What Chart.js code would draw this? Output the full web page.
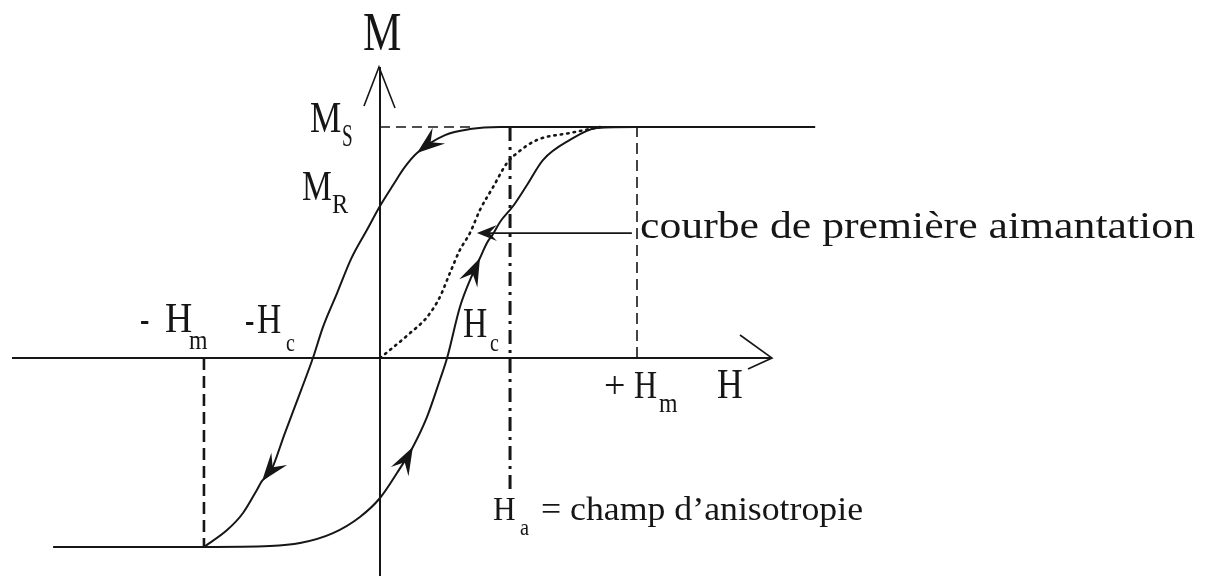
<!DOCTYPE html>
<html>
<head>
<meta charset="utf-8">
<title>Cycle d'hystérésis</title>
<script src="https://cdn.jsdelivr.net/npm/chart.js@4.4.1/dist/chart.umd.min.js"></script>
<style>
  html, body { margin: 0; padding: 0; background: #ffffff; }
  canvas { display: block; }
</style>
</head>
<body>
<canvas id="cycle" width="1217" height="576"></canvas>
<script>
// Field H in units where +Hm = 10, magnetisation M in units where Ms = 10.
const H_PLUS_M = 10;
const H_MINUS_M = -6.85;
const H_ANISO = 5.06;
const M_SAT = 10;
const M_LOW = -8.18;

// Descending branch, travelled from +Hm saturation towards -Hm.
const descendingH = [16.93, 8.56, 4.67, 3.50, 2.53, 1.44, 0.97, 0.51, 0, -0.51, -1.12, -1.67, -2.22, -2.61, -3.07, -3.70, -4.28, -4.59, -4.79, -5.33, -5.95, -6.85];
const descendingM = [10, 10, 10, 9.91, 9.65, 8.87, 8.27, 7.49, 6.58, 5.54, 4.30, 2.81, 1.34, 0, -1.39, -3.25, -4.98, -5.32, -5.71, -6.71, -7.45, -8.18];

// Ascending branch, travelled from the negative saturation back up to +Hm.
const ascendingH = [-12.72, -6.85, -4.28, -3.11, -1.83, -0.78, 0, 0.66, 1.28, 1.83, 2.33, 2.61, 3.11, 3.62, 3.89, 4.16, 4.40, 4.67, 5.18, 5.72, 6.34, 7.39, 8.44, 10, 16.93];
const ascendingM = [-8.18, -8.18, -8.14, -8.01, -7.58, -6.88, -6.06, -4.98, -3.85, -2.55, -0.95, 0, 2.21, 3.68, 4.33, 4.98, 5.37, 5.89, 6.58, 7.49, 8.57, 9.44, 9.96, 10, 10];

// First magnetisation curve, starting from the demagnetised state.
const virginH = [0, 0.39, 1.17, 1.83, 2.33, 2.72, 3.11, 3.50, 3.89, 4.40, 4.94, 5.33, 6.11, 7.39, 8.56];
const virginM = [0, 0.35, 1.08, 1.77, 2.64, 3.68, 4.68, 5.41, 6.41, 7.40, 8.44, 8.87, 9.44, 9.74, 10];

// Direction arrows: [branch, point index]
const travelArrows = [['desc', 5], ['desc', 17], ['asc', 8], ['asc', 14]];

// Pointer towards the first magnetisation curve: start H, end H, level M
const pointerH = [3.77, 9.8];
const pointerM = 5.41;

const INK = '#161616';
const SERIF = '"Liberation Serif", "DejaVu Serif", serif';

const pts = (hs, ms) => hs.map((h, i) => ({ x: h, y: ms[i] }));

function line(label, data, extra) {
  return Object.assign({
    label, data, showLine: true, pointRadius: 0, pointHoverRadius: 0,
    borderColor: INK, borderWidth: 2, tension: 0, fill: false
  }, extra);
}

const smooth = { cubicInterpolationMode: 'monotone' };

const datasets = [
  line('Ms', pts([0, 3.7], [M_SAT, M_SAT]), { borderDash: [10, 6], borderWidth: 1.6 }),
  line('+Hm', pts([H_PLUS_M, H_PLUS_M], [0, M_SAT]), { borderDash: [11, 6], borderWidth: 1.6 }),
  line('-Hm', pts([H_MINUS_M, H_MINUS_M], [0, M_LOW]), { borderDash: [12, 6], borderWidth: 2.6 }),
  line('Ha', pts([H_ANISO, H_ANISO], [M_SAT, -5.7]), { borderDash: [14, 6, 3, 6], borderWidth: 3 }),
  line('descendant', pts(descendingH, descendingM), smooth),
  line('montant', pts(ascendingH, ascendingM), smooth),
  line('première aimantation', pts(virginH, virginM), Object.assign({
    borderDash: [1.5, 5], borderWidth: 2.6, borderCapStyle: 'round'
  }, smooth))
];

function barb(ctx, x, y, ang, len, half) {
  ctx.save();
  ctx.translate(x, y);
  ctx.rotate(ang);
  ctx.beginPath();
  ctx.moveTo(0, 0);
  ctx.lineTo(-len, -half);
  ctx.lineTo(-len * 0.62, 0);
  ctx.lineTo(-len, half);
  ctx.closePath();
  ctx.fillStyle = INK;
  ctx.fill();
  ctx.restore();
}

function text(ctx, str, x, y, size, sx) {
  ctx.save();
  ctx.font = size + 'px ' + SERIF;
  ctx.fillStyle = INK;
  ctx.textBaseline = 'alphabetic';
  ctx.translate(x, y);
  ctx.scale(sx || 1, 1);
  ctx.fillText(str, 0, 0);
  ctx.restore();
}

function fitText(ctx, str, x, y, size, width) {
  ctx.save();
  ctx.font = size + 'px ' + SERIF;
  const w = ctx.measureText(str).width;
  ctx.restore();
  text(ctx, str, x, y, size, width / w);
}

const decorations = {
  id: 'decorations',
  beforeDatasetsDraw(chart) {
    const ctx = chart.ctx;
    const xs = chart.scales.x, ys = chart.scales.y;
    const x0 = xs.getPixelForValue(0), y0 = ys.getPixelForValue(0);
    ctx.save();
    ctx.strokeStyle = INK;
    ctx.lineWidth = 2;
    ctx.beginPath();
    ctx.moveTo(x0, 67); ctx.lineTo(x0, 576);
    ctx.moveTo(12, y0); ctx.lineTo(772, y0);
    ctx.stroke();
    ctx.lineWidth = 1.6;
    ctx.beginPath();
    ctx.moveTo(x0 - 16, 106); ctx.lineTo(x0 - 1, 67); ctx.lineTo(x0 + 15, 108);
    ctx.moveTo(740, y0 - 23); ctx.lineTo(772, y0); ctx.lineTo(748, y0 + 11);
    ctx.stroke();
    ctx.restore();
  },
  afterDatasetsDraw(chart) {
    const ctx = chart.ctx;
    const xs = chart.scales.x, ys = chart.scales.y;
    const px = (h) => xs.getPixelForValue(h), py = (m) => ys.getPixelForValue(m);

    // travel direction arrows along the loop
    travelArrows.forEach(([branch, i]) => {
      const H = branch === 'desc' ? descendingH : ascendingH;
      const M = branch === 'desc' ? descendingM : ascendingM;
      const ang = Math.atan2(py(M[i + 1]) - py(M[i - 1]), px(H[i + 1]) - px(H[i - 1]));
      barb(ctx, px(H[i]), py(M[i]), ang, 28, 10);
    });

    // pointer to the first magnetisation curve
    ctx.save();
    ctx.strokeStyle = INK;
    ctx.lineWidth = 1.8;
    ctx.beginPath();
    ctx.moveTo(px(pointerH[0]) + 6, py(pointerM));
    ctx.lineTo(px(pointerH[1]), py(pointerM));
    ctx.stroke();
    ctx.restore();
    barb(ctx, px(pointerH[0]), py(pointerM), Math.PI, 20, 8);

    // labels
    text(ctx, 'M', 363, 50, 54, 0.8);
    text(ctx, 'M', 310, 132, 44, 0.8);
    text(ctx, 'S', 342, 146, 32, 0.6);
    text(ctx, 'M', 302, 200, 42, 0.8);
    text(ctx, 'R', 332, 213, 27, 0.9);

    text(ctx, '-', 140, 332, 40, 0.7);
    text(ctx, 'H', 165, 332, 42, 0.9);
    text(ctx, 'm', 189, 349, 28, 0.85);

    text(ctx, '-', 245, 333, 40, 0.7);
    text(ctx, 'H', 257, 333, 42, 0.8);
    text(ctx, 'c', 286, 351, 25, 0.8);

    text(ctx, 'H', 463, 337, 42, 0.8);
    text(ctx, 'c', 490, 351, 25, 0.8);

    text(ctx, '+', 604, 398, 38, 1);
    text(ctx, 'H', 634, 398, 40, 0.8);
    text(ctx, 'm', 659, 412, 28, 0.85);

    text(ctx, 'H', 717, 398, 42, 0.85);

    fitText(ctx, 'courbe de première aimantation', 640, 238, 38, 555);

    text(ctx, 'H', 493, 520, 33, 0.95);
    text(ctx, 'a', 520, 535, 24, 0.85);
    fitText(ctx, '= champ d’anisotropie', 541, 520, 34, 322);
  }
};

new Chart(document.getElementById('cycle'), {
  type: 'scatter',
  data: { datasets },
  options: {
    responsive: false,
    devicePixelRatio: 1,
    animation: false,
    events: [],
    layout: { padding: 0 },
    plugins: { legend: { display: false }, tooltip: { enabled: false } },
    scales: {
      x: { type: 'linear', display: false, min: -14.786, max: 32.568 },
      y: { type: 'linear', display: false, min: -9.437, max: 15.498 }
    }
  },
  plugins: [decorations]
});
</script>
</body>
</html>
